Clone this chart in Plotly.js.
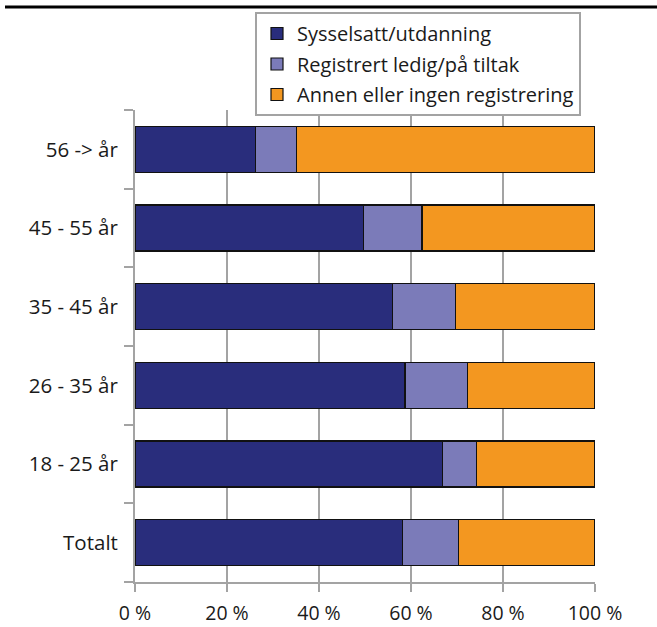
<!DOCTYPE html>
<html>
<head>
<meta charset="utf-8">
<script src="https://cdn.plot.ly/plotly-3.0.1.min.js"></script>
<style>html,body{margin:0;padding:0;background:#fff;}#chart{width:657px;height:627px;}</style>
</head>
<body>
<div id="chart"></div>
<script>
// Categories bottom-to-top
const categories = ['Totalt', '18 - 25 år', '26 - 35 år', '35 - 45 år', '45 - 55 år', '56 -> år'];
const seriesNames = ['Sysselsatt/utdanning', 'Registrert ledig/på tiltak', 'Annen eller ingen registrering'];
const sysselsatt = [58.2, 66.8, 58.7, 55.9, 49.7, 26.2];
const registrert = [12.1, 7.4, 13.5, 13.7, 12.7, 8.9];
const annen = [29.7, 25.8, 27.8, 30.4, 37.6, 64.9];
const xTickValues = [0, 20, 40, 60, 80, 100];
const xTickLabels = ['0 %', '20 %', '40 %', '60 %', '80 %', '100 %'];

const colors = ['#292d7c', '#7b7bb9', '#f39720'];
const seriesValues = [sysselsatt, registrert, annen];

const traces = seriesValues.map((vals, i) => ({
  type: 'bar',
  orientation: 'h',
  name: seriesNames[i],
  legendgroup: 'g' + i,
  y: categories,
  x: vals,
  width: 0.585,
  marker: {color: colors[i], line: {color: '#111', width: 1.2}},
  hoverinfo: 'x+name'
}));

const W = 657, H = 627;
const L = 135, R = 595, T = 110, B = 582;
const px2x = p => (p - L) / (R - L);
const py2y = p => (B - p) / (B - T);

const layout = {
  width: W, height: H,
  margin: {l: L, r: W - R, t: T, b: H - B, pad: 0},
  paper_bgcolor: '#fff', plot_bgcolor: '#fff',
  barmode: 'stack',
  font: {family: '"Open Sans", "Noto Sans", sans-serif', size: 20, color: '#1a1a1a'},
  xaxis: {
    range: [0, 100], fixedrange: true,
    tickmode: 'array', tickvals: xTickValues, ticktext: xTickLabels,
    showgrid: true, gridcolor: '#a3a3a3', gridwidth: 2,
    showline: true, linecolor: '#a3a3a3', linewidth: 2,
    ticks: 'outside', ticklen: 8, tickcolor: '#a3a3a3', tickwidth: 2,
    ticklabelstandoff: 5,
    zeroline: false,
    tickfont: {size: 19.5, color: '#1a1a1a'}
  },
  yaxis: {
    type: 'category', categoryorder: 'array', categoryarray: categories,
    showgrid: false, fixedrange: true,
    showline: true, linecolor: '#a3a3a3', linewidth: 2,
    ticks: 'outside', ticklen: 9, tickcolor: '#a3a3a3', tickwidth: 2,
    tickson: 'boundaries',
    ticklabelstandoff: 11,
    tickfont: {size: 20.5, color: '#1a1a1a'}
  },
  legend: {
    x: px2x(255), y: py2y(12), xanchor: 'left', yanchor: 'top',
    bgcolor: '#fff', bordercolor: '#a3a3a3', borderwidth: 2,
    traceorder: 'grouped',
    font: {size: 20, color: '#1a1a1a'},
    itemwidth: 30,
    tracegroupgap: 1.5
  },
  shapes: [{
    type: 'line', xref: 'paper', yref: 'paper',
    x0: px2x(5), x1: px2x(657), y0: py2y(7), y1: py2y(7),
    line: {color: '#000', width: 3}
  }],
  showlegend: true
};

Plotly.newPlot('chart', traces, layout, {displayModeBar: false, staticPlot: true});
</script>
</body>
</html>
